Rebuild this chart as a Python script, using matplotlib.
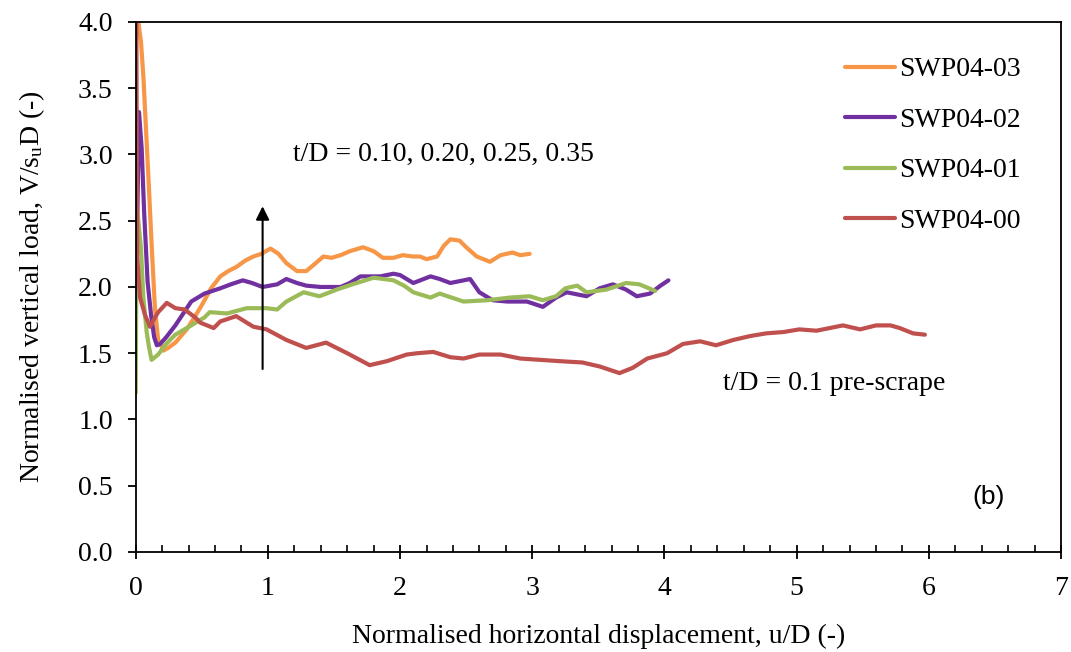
import matplotlib
matplotlib.use("Agg")
import matplotlib.pyplot as plt
from matplotlib.ticker import MultipleLocator, FormatStrFormatter

plt.rcParams['font.family'] = ['Liberation Serif', 'DejaVu Serif']
plt.rcParams['mathtext.fontset'] = 'custom'
plt.rcParams['mathtext.rm'] = 'Liberation Serif'
plt.rcParams['mathtext.it'] = 'Liberation Serif:italic'

# Test SWP04-03
x_03 = [0.02, 0.04, 0.058, 0.083, 0.10, 0.12, 0.146, 0.17, 0.21, 0.245, 0.30, 0.386, 0.45,
        0.51, 0.57, 0.64, 0.70, 0.76, 0.83, 0.89, 0.95, 1.02, 1.08, 1.14, 1.22, 1.29, 1.35,
        1.42, 1.48, 1.55, 1.62, 1.72, 1.80, 1.87, 1.95, 2.02, 2.10, 2.15, 2.20, 2.28, 2.33,
        2.38, 2.45, 2.50, 2.58, 2.68, 2.76, 2.85, 2.91, 2.98]
v_03 = [4.0, 3.85, 3.59, 3.09, 2.75, 2.33, 1.83, 1.60, 1.52, 1.54, 1.58, 1.68, 1.78,
        1.88, 1.99, 2.08, 2.12, 2.15, 2.20, 2.23, 2.25, 2.29, 2.25, 2.18, 2.12, 2.12, 2.17,
        2.23, 2.22, 2.24, 2.27, 2.30, 2.27, 2.22, 2.22, 2.24, 2.23, 2.23, 2.21, 2.23, 2.31,
        2.36, 2.35, 2.30, 2.23, 2.19, 2.24, 2.26, 2.24, 2.25]

# Test SWP04-02
x_02 = [0.01, 0.025, 0.045, 0.065, 0.09, 0.116, 0.14, 0.16, 0.185, 0.23, 0.30, 0.36, 0.42,
        0.52, 0.64, 0.72, 0.81, 0.88, 0.96, 1.07, 1.14, 1.22, 1.29, 1.40, 1.55, 1.62, 1.70,
        1.85, 1.95, 2.0, 2.10, 2.23, 2.30, 2.38, 2.53, 2.60, 2.70, 2.81, 2.96, 3.08, 3.18,
        3.26, 3.41, 3.51, 3.61, 3.71, 3.79, 3.89, 3.97, 4.03]
v_02 = [2.4, 3.32, 3.05, 2.54, 2.04, 1.79, 1.62, 1.56, 1.57, 1.62, 1.71, 1.80, 1.89,
        1.95, 1.99, 2.02, 2.05, 2.03, 2.00, 2.02, 2.06, 2.03, 2.01, 2.00, 2.00, 2.03, 2.08,
        2.08, 2.10, 2.09, 2.03, 2.08, 2.06, 2.03, 2.06, 1.96, 1.90, 1.89, 1.89, 1.85, 1.92,
        1.96, 1.93, 1.99, 2.02, 1.98, 1.93, 1.95, 2.01, 2.05]

# Test SWP04-01
x_01 = [0.0, 0.005, 0.015, 0.04, 0.058, 0.083, 0.10, 0.12, 0.17, 0.23, 0.30, 0.42, 0.52,
        0.56, 0.69, 0.84, 0.99, 1.07, 1.14, 1.27, 1.39, 1.52, 1.64, 1.80, 1.95, 2.03, 2.10,
        2.23, 2.30, 2.48, 2.66, 2.83, 2.98, 3.08, 3.18, 3.25, 3.34, 3.41, 3.56, 3.71, 3.81,
        3.93]
v_01 = [1.2, 2.1, 2.55, 2.29, 1.92, 1.66, 1.55, 1.45, 1.49, 1.57, 1.64, 1.71, 1.77,
        1.81, 1.80, 1.84, 1.84, 1.83, 1.89, 1.96, 1.93, 1.98, 2.02, 2.07, 2.05, 2.01, 1.96,
        1.92, 1.95, 1.89, 1.90, 1.92, 1.93, 1.90, 1.93, 1.99, 2.01, 1.96, 1.98, 2.03, 2.02,
        1.97]

# Test SWP04-00 (pre-scrape)
x_00 = [0.005, 0.008, 0.012, 0.033, 0.07, 0.108, 0.14, 0.17, 0.235, 0.30, 0.37, 0.45, 0.49,
        0.59, 0.64, 0.76, 0.89, 0.99, 1.14, 1.29, 1.44, 1.60, 1.77, 1.90, 2.05, 2.13, 2.25,
        2.38, 2.48, 2.60, 2.76, 2.91, 3.06, 3.21, 3.38, 3.51, 3.66, 3.76, 3.87, 4.02, 4.14,
        4.27, 4.39, 4.52, 4.65, 4.77, 4.90, 5.02, 5.15, 5.30, 5.35, 5.48, 5.60, 5.71, 5.78,
        5.88, 5.97]
v_00 = [4.0, 3.0, 2.22, 1.92, 1.79, 1.70, 1.76, 1.81, 1.88, 1.84, 1.83, 1.77, 1.73,
        1.69, 1.74, 1.78, 1.70, 1.68, 1.60, 1.54, 1.58, 1.50, 1.41, 1.44, 1.49, 1.50, 1.51,
        1.47, 1.46, 1.49, 1.49, 1.46, 1.45, 1.44, 1.43, 1.40, 1.35, 1.39, 1.46, 1.50, 1.57,
        1.59, 1.56, 1.60, 1.63, 1.65, 1.66, 1.68, 1.67, 1.70, 1.71, 1.68, 1.71, 1.71, 1.69,
        1.65, 1.64]

series = [
    ("SWP04-03", x_03, v_03, "#F79646"),
    ("SWP04-02", x_02, v_02, "#7030A0"),
    ("SWP04-01", x_01, v_01, "#9BBB59"),
    ("SWP04-00", x_00, v_00, "#C0504D"),
]

FS = 20

fig = plt.figure(figsize=(10.71, 6.52), dpi=100)
ax = fig.add_axes([0.1267, 0.1534, 0.864, 0.8129])

for label, xs, vs, col in series:
    ax.plot(xs, vs, color=col, lw=3, label=label, solid_capstyle='round')

ax.set_xlim(0, 7)
ax.set_ylim(0, 4)
ax.xaxis.set_major_locator(MultipleLocator(1))
ax.xaxis.set_minor_locator(MultipleLocator(0.2))
ax.yaxis.set_major_locator(MultipleLocator(0.5))
ax.yaxis.set_major_formatter(FormatStrFormatter('%.1f'))

ax.tick_params(axis='x', which='major', direction='inout', length=10, width=1.3,
               labelsize=FS, pad=12)
ax.tick_params(axis='x', which='minor', direction='in', length=5, width=1.2)
ax.tick_params(axis='y', which='major', direction='out', length=5.5, width=1.3,
               labelsize=FS, pad=11)
for s in ax.spines.values():
    s.set_linewidth(1.3)
    s.set_color('black')

ax.set_xlabel("Normalised horizontal displacement, u/D (-)", fontsize=FS, labelpad=17)
ax.set_ylabel(r"Normalised vertical load, V/s$_\mathregular{u}$D (-)", fontsize=FS,
              labelpad=22)

ax.annotate("", xy=(0.96, 2.63), xytext=(0.96, 1.36),
            arrowprops=dict(arrowstyle='-|>', color='black', lw=1.5, mutation_scale=20))
ax.text(1.19, 3.0, "t/D = 0.10, 0.20, 0.25, 0.35", fontsize=FS, ha='left', va='center')
ax.text(4.44, 1.275, "t/D = 0.1 pre-scrape", fontsize=FS, ha='left', va='center')
ax.text(6.45, 0.415, "(b)", fontsize=19, ha='center', va='center',
        family=['Liberation Sans', 'DejaVu Sans'])

leg = ax.legend(loc='upper left', bbox_to_anchor=(0.740, 0.981), frameon=False, fontsize=FS,
                handlelength=1.8, handletextpad=0.15, labelspacing=0.9, borderpad=0.4)

fig.savefig("out.png", dpi=100)
